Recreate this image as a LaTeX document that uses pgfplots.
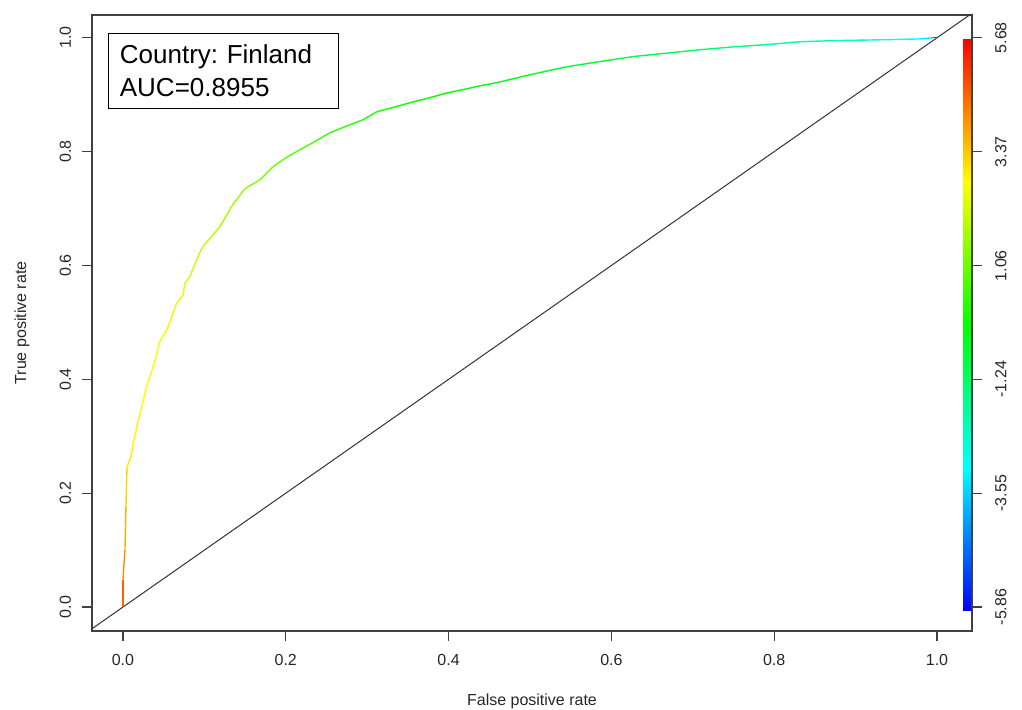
\documentclass[border=0pt]{standalone}
\usepackage{fontspec}
\setmainfont{Liberation Sans}
\usepackage{pgfplots}
\pgfplotsset{compat=1.18}
\usetikzlibrary{calc}
\begin{document}
\begin{tikzpicture}
\begin{axis}[name=main, scale only axis, width=440pt, height=308pt,
  xmin=-0.038, xmax=1.043, ymin=-0.042, ymax=1.04,
  axis line style={black!75, line width=0.6pt},
  every tick/.style={black!75, line width=0.6pt},
  tick align=outside, major tick length=5pt,
  xtick pos=lower, ytick pos=left,
  xtick={0,0.2,0.4,0.6,0.8,1}, xticklabels={0.0,0.2,0.4,0.6,0.8,1.0},
  ytick={0,0.2,0.4,0.6,0.8,1}, yticklabels={0.0,0.2,0.4,0.6,0.8,1.0},
  ticklabel style={font=\fontsize{8}{10}\selectfont, text=black!85},
  yticklabel style={rotate=90, anchor=south},
  xticklabel shift=3pt, yticklabel shift=2pt,
  xlabel={False positive rate}, ylabel={True positive rate},
  label style={font=\fontsize{8}{10}\selectfont, text=black!85},
  xlabel style={at={(axis description cs:0.5,-0.114)}, anchor=center},
  ylabel style={at={(axis description cs:-0.0795,0.5)}, anchor=center},
  colormap={rb}{rgb255=(0,0,255) rgb255=(0,255,255) rgb255=(0,255,0) rgb255=(255,255,0) rgb255=(255,0,0)},
  point meta min=-5.86, point meta max=5.68,
]
\addplot[black!80, line width=0.5pt] coordinates {(-0.05,-0.05) (1.05,1.05)};
\addplot[mesh, point meta=explicit, line width=0.7pt] table[meta=c] {
x y c
0 0 4.9
0 0.047 4.3
0.0025 0.10 3.9
0.0037 0.176 3.5
0.005 0.246 3.1
0.0098 0.264 3.0
0.0135 0.293 2.95
0.018 0.323 2.9
0.023 0.351 2.85
0.029 0.387 2.8
0.036 0.417 2.75
0.042 0.446 2.7
0.045 0.466 2.65
0.054 0.487 2.6
0.060 0.510 2.55
0.066 0.534 2.5
0.074 0.548 2.45
0.076 0.569 2.4
0.082 0.580 2.35
0.092 0.615 2.2
0.098 0.633 2.1
0.119 0.668 1.9
0.135 0.707 1.7
0.150 0.735 1.5
0.168 0.750 1.3
0.184 0.773 1.1
0.200 0.789 0.95
0.217 0.803 0.8
0.235 0.817 0.65
0.254 0.833 0.5
0.275 0.845 0.4
0.295 0.856 0.3
0.312 0.870 0.2
0.333 0.878 0.1
0.353 0.886 0.0
0.375 0.894 -0.05
0.398 0.903 -0.1
0.418 0.909 -0.2
0.440 0.916 -0.25
0.459 0.921 -0.3
0.500 0.935 -0.4
0.545 0.949 -0.6
0.585 0.958 -0.75
0.627 0.967 -0.9
0.668 0.973 -1.1
0.709 0.979 -1.3
0.750 0.984 -1.5
0.791 0.988 -1.7
0.832 0.993 -2.0
0.873 0.995 -2.3
0.914 0.996 -2.6
0.950 0.997 -2.8
0.980 0.998 -3.0
0.995 1.000 -3.5
1.000 1.000 -5.86
};
\shade[bottom color=blue, top color=cyan] (axis cs:1.032,-0.006) rectangle (axis cs:1.0418,0.2449);
\shade[bottom color=cyan, top color=green] (axis cs:1.032,0.2447) rectangle (axis cs:1.0418,0.4956);
\shade[bottom color=green, top color=yellow] (axis cs:1.032,0.4954) rectangle (axis cs:1.0418,0.7464);
\shade[bottom color=yellow, top color=red] (axis cs:1.032,0.7462) rectangle (axis cs:1.0418,0.997);
\node[draw=black, fill=white, line width=0.6pt, anchor=north west, text width=104pt, inner xsep=5.5pt,
  minimum height=37.5pt, align=left, font=\fontsize{13}{16.5}\selectfont]
  at (axis cs:-0.018,1.009) {Country:\ Finland\\AUC=0.8955};
\end{axis}
\begin{axis}[scale only axis, width=440pt, height=308pt,
  xmin=-0.038, xmax=1.043, ymin=-6.3447, ymax=6.1416,
  hide x axis, axis y line*=right,
  axis line style={draw=none},
  every tick/.style={black!75, line width=0.6pt},
  tick align=outside, major tick length=5pt,
  ytick={-5.86,-3.55,-1.24,1.06,3.37,5.68},
  yticklabels={-5.86,-3.55,-1.24,1.06,3.37,5.68},
  ticklabel style={font=\fontsize{8}{10}\selectfont, text=black!85},
  yticklabel style={rotate=90, anchor=north},
  yticklabel shift=3pt,
]
\end{axis}
\pgfresetboundingbox
\path ($(main.south west)+(-46pt,-39.5pt)$) rectangle ($(main.north east)+(25pt,7.5pt)$);
\end{tikzpicture}
\end{document}
